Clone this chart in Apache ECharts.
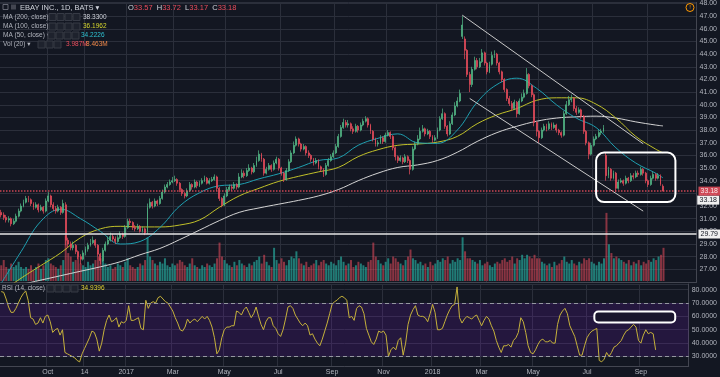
<!DOCTYPE html>
<html><head><meta charset="utf-8">
<script src="https://cdn.jsdelivr.net/npm/echarts@6/dist/echarts.min.js"></script>
<style>html,body{margin:0;padding:0;background:#131722;}#c{width:720px;height:377px;}</style>
</head><body><div id="c"></div>
<script>
// ---------- calendar ----------
const startDate = '2016-08-08';
const holidays = ['2016-09-05','2016-11-24','2016-12-26','2017-01-02','2017-01-16','2017-02-20','2017-04-14','2017-05-29','2017-07-04','2017-09-04','2017-11-23','2017-12-25','2018-01-01','2018-01-15','2018-02-19','2018-03-30','2018-05-28','2018-07-04','2018-09-03','2018-11-22','2018-12-25'];
const daysPerBar = 2;
const emptyBars = 13;

// ---------- price (one candle = 2 trading days) ----------
const openP = [
31.5,31.3,31.1,30.9,31.0,30.6,30.8,31.2,31.6,32.0,
32.3,32.6,32.5,32.2,31.9,32.1,31.7,31.9,31.6,32.4,
32.8,32.1,31.8,31.6,31.9,31.5,32.1,29.3,29.0,28.7,
28.9,28.4,28.0,27.8,28.3,28.6,28.9,29.1,29.3,28.9,
28.2,27.7,28.5,29.0,29.3,29.6,29.4,29.2,29.5,29.8,
29.6,30.3,30.8,30.7,30.3,30.2,30.4,30.0,30.2,30.0,
31.9,32.3,32.0,32.4,32.2,32.6,33.1,33.5,33.7,33.9,
34.0,34.1,33.8,33.3,33.0,32.8,33.2,33.7,33.5,33.9,
33.6,33.8,34.0,34.2,33.8,34.0,34.1,34.3,33.4,32.6,
32.1,32.8,33.3,33.5,33.4,33.7,33.5,34.3,34.6,34.4,
34.8,35.0,34.7,35.2,35.6,36.1,35.7,34.6,34.9,35.2,
34.9,35.4,35.7,35.0,34.6,34.1,34.8,35.5,36.2,36.8,
37.3,36.9,36.5,36.7,36.2,36.0,35.7,35.4,35.6,35.1,
34.9,34.5,35.2,35.6,35.9,36.2,36.7,37.5,38.2,38.6,
38.4,38.5,38.1,37.9,38.3,38.0,38.4,38.7,38.9,38.4,
37.9,37.3,36.9,37.0,37.4,37.1,37.6,37.8,37.5,36.6,
35.9,35.6,35.8,35.5,35.9,35.6,34.9,36.5,36.9,37.3,
37.9,38.1,37.7,37.9,37.5,37.2,37.4,38.0,38.9,39.3,
38.3,37.7,38.5,39.2,39.9,40.3,45.4,45.2,44.3,42.4,
41.6,42.8,43.5,43.0,43.4,44.1,43.3,42.6,43.2,43.9,
44.0,43.3,42.6,42.0,41.2,40.5,40.1,39.7,40.2,39.3,
40.3,40.6,40.9,42.4,41.5,40.8,38.6,37.9,37.4,38.0,
38.3,38.1,38.5,38.2,38.4,38.0,37.8,37.6,39.3,40.0,
40.4,40.5,39.7,39.4,39.6,39.1,37.9,37.0,36.1,36.8,
37.3,37.5,37.8,37.9,36.0,34.4,34.9,34.2,34.6,33.4,
33.9,34.0,33.8,34.2,34.0,34.4,34.3,34.6,34.5,34.9,
34.6,34.0,33.7,34.2,34.5,34.2,34.4,33.57];
const highP = [
31.7,31.5,31.3,31.2,31.1,31.0,31.4,31.8,32.2,32.5,
32.8,32.8,32.6,32.3,32.3,32.2,32.1,32.0,32.6,33.1,
32.9,32.3,32.0,32.1,32.0,32.5,32.3,29.5,29.2,29.2,
29.0,28.5,28.2,28.5,28.8,29.1,29.4,29.6,29.4,29.0,
28.3,28.7,29.2,29.6,29.9,29.8,29.6,29.7,30.0,29.9,
30.5,31.0,31.0,30.8,30.5,30.6,30.5,30.4,30.3,32.2,
32.6,32.4,32.6,32.5,32.8,33.3,33.7,33.9,34.1,34.3,
34.4,34.2,33.9,33.4,33.1,33.4,33.9,33.8,34.1,34.0,
34.0,34.2,34.4,34.3,34.2,34.3,34.5,34.4,33.5,32.7,
33.0,33.5,33.7,33.7,33.9,33.8,34.6,34.9,34.8,35.0,
35.3,35.1,35.4,35.9,36.4,36.2,35.8,35.1,35.4,35.3,
35.6,35.9,35.8,35.1,34.7,35.0,35.7,36.4,37.1,37.5,
37.4,37.0,36.9,36.8,36.4,36.1,35.8,35.8,35.7,35.2,
35.0,35.4,35.8,36.1,36.4,36.9,37.7,38.4,38.9,38.8,
38.8,38.6,38.3,38.5,38.4,38.6,38.9,39.1,39.0,38.5,
38.0,37.4,37.2,37.6,37.5,37.8,38.0,37.9,37.6,36.7,
36.0,36.0,35.9,36.1,36.0,35.7,36.7,37.1,37.6,38.2,
38.4,38.2,38.1,38.0,37.6,37.6,38.2,39.1,39.7,39.4,
38.4,38.7,39.4,40.2,40.6,41.2,47.0,45.4,44.4,42.6,
43.0,43.8,43.7,43.7,44.4,44.2,43.4,43.4,44.2,44.3,
44.1,43.4,42.7,42.1,41.3,40.7,40.3,40.4,40.3,40.5,
40.9,41.2,42.9,42.5,41.6,40.9,38.7,38.0,38.2,38.5,
38.5,38.7,38.6,38.6,38.5,38.1,37.9,39.5,40.3,40.7,
40.8,40.6,39.9,39.8,39.7,39.2,38.0,37.1,37.0,37.5,
37.7,38.0,38.1,38.4,36.2,35.1,35.0,34.8,34.7,34.1,
34.2,34.1,34.4,34.3,34.6,34.6,34.8,34.8,35.1,35.0,
34.7,34.1,34.4,34.7,34.6,34.6,34.5,33.72];
const lowP = [
31.1,30.9,30.7,30.7,30.4,30.5,30.7,31.1,31.5,31.9,
32.2,32.3,32.0,31.7,31.8,31.5,31.6,31.4,31.5,32.3,
31.9,31.6,31.4,31.5,31.3,31.4,28.9,28.7,28.5,28.5,
28.2,27.8,27.4,27.7,28.1,28.4,28.8,29.0,28.7,28.0,
27.4,27.6,28.4,28.9,29.2,29.2,29.0,29.1,29.4,29.4,
29.5,30.2,30.5,30.1,30.0,30.1,29.9,29.9,29.7,29.8,
31.8,31.8,31.9,32.0,32.1,32.5,33.0,33.4,33.6,33.8,
33.9,33.6,33.1,32.8,32.6,32.7,33.1,33.3,33.4,33.4,
33.5,33.7,33.9,33.7,33.7,33.9,34.0,33.2,32.4,31.9,
32.0,32.7,33.2,33.2,33.3,33.3,33.4,34.2,34.2,34.3,
34.7,34.5,34.6,35.1,35.5,35.5,34.4,34.5,34.8,34.7,
34.8,35.3,34.8,34.4,33.9,34.0,34.7,35.4,36.1,36.7,
36.7,36.3,36.4,36.0,35.8,35.5,35.2,35.3,34.9,34.7,
34.3,34.4,35.1,35.5,35.8,36.1,36.6,37.4,38.1,38.2,
38.2,37.9,37.7,37.8,37.8,37.9,38.3,38.6,38.2,37.7,
37.1,36.7,36.7,36.9,36.9,37.0,37.5,37.3,36.4,35.6,
35.4,35.5,35.3,35.4,35.4,34.5,34.8,36.4,36.8,37.2,
37.8,37.5,37.6,37.3,37.0,37.1,37.3,37.9,38.8,38.1,
37.5,37.6,38.4,39.1,39.8,40.2,45.2,43.6,42.2,41.0,
41.4,42.7,42.8,42.9,43.3,43.1,42.4,42.5,43.1,43.7,
43.1,42.4,41.8,41.0,40.3,39.9,39.5,39.6,39.0,39.2,
40.2,40.5,40.8,41.3,40.6,38.3,37.5,37.0,37.3,37.9,
37.9,38.0,38.0,38.1,37.8,37.6,37.4,37.5,39.2,39.9,
40.2,39.5,39.2,39.3,38.9,37.7,36.8,35.7,36.0,36.7,
37.2,37.4,37.6,37.8,34.0,34.2,34.0,34.1,33.1,33.3,
33.8,33.6,33.7,33.8,33.9,34.1,34.2,34.3,34.4,34.4,
33.8,33.5,33.6,34.1,34.0,34.1,33.6,33.17];
const closeP = [
31.3,31.1,30.9,31.0,30.6,30.8,31.2,31.6,32.0,32.3,
32.6,32.5,32.2,31.9,32.1,31.7,31.9,31.6,32.4,32.8,
32.1,31.8,31.6,31.9,31.5,32.2,29.3,29.0,28.7,28.9,
28.4,28.0,27.8,28.3,28.6,28.9,29.1,29.3,28.9,28.2,
27.7,28.5,29.0,29.3,29.6,29.4,29.2,29.5,29.8,29.6,
30.3,30.8,30.7,30.3,30.2,30.4,30.0,30.2,29.9,31.9,
32.3,32.0,32.4,32.2,32.6,33.1,33.5,33.7,33.9,34.0,
34.1,33.8,33.3,33.0,32.8,33.2,33.7,33.5,33.9,33.6,
33.8,34.0,34.2,33.8,34.0,34.1,34.3,33.4,32.6,32.1,
32.8,33.3,33.5,33.4,33.7,33.5,34.3,34.6,34.4,34.8,
35.0,34.7,35.2,35.6,36.1,35.7,34.6,34.9,35.2,34.9,
35.4,35.7,35.0,34.6,34.1,34.8,35.5,36.2,36.8,37.3,
36.9,36.5,36.7,36.2,36.0,35.7,35.4,35.6,35.1,34.9,
34.5,35.2,35.6,35.9,36.2,36.7,37.5,38.2,38.6,38.4,
38.5,38.1,37.9,38.3,38.0,38.4,38.7,38.9,38.4,37.9,
37.3,36.9,37.0,37.4,37.1,37.6,37.8,37.5,36.6,35.9,
35.6,35.8,35.5,35.9,35.6,34.9,36.5,36.9,37.3,37.9,
38.1,37.7,37.9,37.5,37.2,37.4,38.0,38.9,39.3,38.3,
37.7,38.5,39.2,39.9,40.3,40.9,46.3,44.3,42.4,41.6,
42.8,43.5,43.0,43.4,44.1,43.3,42.6,43.2,43.9,44.0,
43.3,42.6,42.0,41.2,40.5,40.1,39.7,40.2,39.3,40.3,
40.6,40.9,42.4,41.5,40.8,38.6,37.9,37.4,38.0,38.3,
38.1,38.5,38.2,38.4,38.0,37.8,37.6,39.3,40.0,40.4,
40.5,39.7,39.4,39.6,39.1,37.9,37.0,36.1,36.8,37.3,
37.5,37.8,37.9,38.2,34.4,34.9,34.2,34.6,33.4,33.9,
34.0,33.8,34.2,34.0,34.4,34.3,34.6,34.5,34.9,34.6,
34.0,33.7,34.2,34.5,34.2,34.4,33.7,33.18];
// volume, millions
const volumeM = [
9,12,8,7,10,8,9,11,8,7, 8,7,9,6,8,10,7,9,12,13, 10,9,8,7,9,12,26,16,14,11,
12,14,10,9,8,11,9,10,12,14, 13,12,10,8,9,7,8,10,9,8, 11,13,9,8,7,8,10,9,12,25,
14,12,10,9,11,10,13,9,8,10, 9,10,12,11,9,8,10,13,9,8, 7,9,8,10,9,8,10,13,22,14,
12,10,9,8,11,9,12,10,9,8, 10,9,11,12,14,10,15,11,9,8, 19,12,10,13,11,9,12,14,13,17,
13,10,9,11,8,9,10,12,9,11, 12,10,9,11,10,9,12,14,11,9, 10,12,8,9,11,10,9,8,11,12,
22,14,12,10,9,11,13,10,14,13, 11,10,9,12,14,18,13,12,10,11, 9,10,8,11,9,10,12,11,13,12,
14,10,12,11,13,12,25,17,13,13, 12,11,10,12,9,10,11,9,8,10, 11,10,12,13,11,12,14,10,13,12,
15,13,15,14,13,15,13,13,11,10, 9,10,8,11,9,10,12,14,11,10, 12,10,9,11,10,13,12,13,11,10,
9,11,10,13,39,21,16,13,14,13, 12,11,10,12,9,11,10,12,9,11, 10,12,11,13,12,14,15,19];
// RSI(14)
const rsi = [
78.5,78,73,67,63,63,66,70,74,77, 79,72,59,58,54,55,59,55,60,61, 56,48,50,51,46,50,33,32,31,30,
29,27,26,32,36,40,44,49,48,43, 34,40,50,57,61,56,57,59,52,56, 55,57,68,57,57,58,59,51,50,72,
66,70,71,70,74,75,73,71,70,67, 64,59,55,50,49,52,58,55,57,58, 56,58,60,58,60,57,52,44,32,35,
44,50,52,52,53,53,64,63,61,65, 67,63,59,62,67,60,54,50,56,59, 59,53,51,47,45,50,58,67,68,66,
61,58,55,53,55,53,46,47,43,40, 38,43,49,55,62,69,71,72,74,75, 74,72,59,60,57,66,68,67,62,51,
46,41,39,43,49,48,49,46,30,35, 37,35,42,44,31,40,54,61,65,68, 61,60,60,59,56,62,69,63,50,50,
51,56,61,65,68,69,82,59,55,58, 60,59,58,60,61,57,53,57,60,58, 53,49,42,37,33,38,38,39,37,42,
44,48,59,56,48,38,33,32,35,39, 42,43,41,41,42,40,40,54,61,64, 66,62,53,49,45,38,31,31,38,44,
47,49,50,51,27,26,28,33,30,33, 37,38,40,42,46,49,50,52,54,52, 42,40,46,50,47,48,47,34.94];
// moving averages: [candle index, value]
const ma200 = [[0,25.5],[8,25.8],[16,26.15],[24,26.5],[32,26.85],[40,27.2],[48,27.6],[56,28.15],[64,28.65],[72,29.35],[80,30.1],[88,30.85],[96,31.5],[104,31.85],[112,32.15],[120,32.45],[128,32.8],[136,33.3],[144,34.0],[152,34.6],[160,35.05],[168,35.25],[176,35.6],[184,36.25],[192,37.1],[200,37.8],[208,38.3],[216,38.7],[224,38.95],[232,39.05],[240,39.1],[248,38.95],[256,38.65],[264,38.4],[267,38.33]];
const ma100 = [[0,25.2],[8,26.3],[16,27.3],[24,28.3],[32,29.5],[40,30.2],[48,30.4],[56,30.35],[64,30.35],[72,30.5],[80,30.9],[88,31.9],[96,32.8],[104,33.4],[112,33.95],[120,34.35],[128,34.7],[136,35.05],[144,35.9],[152,36.45],[160,36.8],[168,36.9],[176,37.05],[184,37.5],[192,38.5],[200,39.2],[208,39.7],[216,40.35],[224,40.55],[232,40.55],[240,40.05],[248,38.95],[256,37.5],[264,36.5],[267,36.2]];
const ma50 = [[0,25.9],[8,28.4],[16,30.8],[24,31.75],[32,31.0],[40,30.0],[48,29.0],[56,29.2],[64,30.3],[72,32.0],[80,33.05],[88,33.6],[96,33.7],[104,34.15],[112,34.55],[120,35.05],[128,35.6],[136,35.8],[144,36.8],[152,37.35],[160,37.7],[168,37.0],[176,36.95],[184,38.0],[192,40.2],[200,41.6],[208,42.1],[216,41.3],[224,40.0],[232,38.95],[240,38.2],[248,36.6],[256,35.4],[264,34.6],[267,34.22]];

// axis ticks
const tickDates = ['2016-10-03','2016-11-14','2017-01-03','2017-03-01','2017-05-01','2017-07-03','2017-09-01','2017-11-01','2018-01-02','2018-03-01','2018-05-01','2018-07-02','2018-09-04'];
const tickTexts = ['Oct','14','2017','Mar','May','Jul','Sep','Nov','2018','Mar','May','Jul','Sep'];

// drawings (data space: candle index, price)
const lastPrice = 33.18;
const supportLevel = 29.79;
const trendLines = [[186, 47.08, 259, 36.92], [189, 40.5, 259, 31.6]];
const priceBox = [240, 36.22, 272, 32.31];
const rsiBox = [242, 63.7, 275, 55.4];
const rsiBands = [70, 30];

// legend values
const ohlcLast = {O: '33.57', H: '33.72', L: '33.17', C: '33.18'};
const legendMA200 = '38.3300', legendMA100 = '36.1962', legendMA50 = '34.2226';
const legendVol = '3.987M', legendVolMA = '8.463M', legendRSI = '34.9396';

// ---------- build ----------
function tradingDays(start, n) {
  const out = []; const d = new Date(start + 'T00:00:00Z');
  while (out.length < n) {
    const dow = d.getUTCDay(); const s = d.toISOString().slice(0, 10);
    if (dow !== 0 && dow !== 6 && holidays.indexOf(s) < 0) out.push(s);
    d.setUTCDate(d.getUTCDate() + 1);
  }
  return out;
}
const nBars = closeP.length + emptyBars;
const days = tradingDays(startDate, nBars * daysPerBar);
const categories = [];
for (let i = 0; i < nBars; i++) categories.push(days[i * daysPerBar]);
const labelMap = {};
tickDates.forEach((t, k) => { const di = days.indexOf(t); if (di >= 0) labelMap[Math.floor(di / daysPerBar)] = tickTexts[k]; });
const isTick = (idx) => labelMap.hasOwnProperty(idx);

const UP = '#53b987', DOWN = '#eb4d5c';
const GRID = '#2b2f3b';
const TXT = '#b2b5be';
const FONT = 'Liberation Sans, DejaVu Sans, sans-serif';

const candleData = closeP.map((c, i) => [openP[i], c, lowP[i], highP[i]]);
const volData = volumeM.map((v, i) => ({value: v, itemStyle: {color: closeP[i] >= openP[i] ? 'rgba(38,166,154,0.7)' : 'rgba(235,77,92,0.55)'}}));

function boxRender(fill, r) {
  return function (params, api) {
    const a = api.coord([api.value(0), api.value(1)]);
    const b = api.coord([api.value(2), api.value(3)]);
    return {type: 'rect', shape: {x: a[0], y: a[1], width: b[0] - a[0], height: b[1] - a[1], r: r},
      style: {fill: fill, stroke: '#ffffff', lineWidth: 2}};
  };
}

const graphic = [];
function txt(x, y, text, fill, size, extra) {
  graphic.push(Object.assign({type: 'text', x: x, y: y, silent: true, z: 100,
    style: Object.assign({text: text, fill: fill, fontSize: size || 6.5, fontFamily: FONT, verticalAlign: 'middle'}, extra || {})}));
}
function icons(x, y, n) {
  for (let k = 0; k < n; k++) graphic.push({type: 'rect', z: 100, silent: true, shape: {x: x + k * 8, y: y - 3.5, width: 7, height: 7},
    style: {fill: '#1e222d', stroke: '#363a45', lineWidth: 1}});
}
graphic.push({type: 'rect', z: 100, shape: {x: 3, y: 4.5, width: 5, height: 5}, style: {fill: 'none', stroke: '#787b86', lineWidth: 0.8}});
graphic.push({type: 'rect', z: 100, shape: {x: 11, y: 4.5, width: 5, height: 5}, style: {fill: '#434651'}});
txt(20, 7.5, 'EBAY INC., 1D, BATS \u25BE', '#d1d4dc', 7.5);
txt(128, 7.5, '{l|O}{v|' + ohlcLast.O + '}  {l|H}{v|' + ohlcLast.H + '}  {l|L}{v|' + ohlcLast.L + '}  {l|C}{v|' + ohlcLast.C + '}', '#d1d4dc', 7.5,
  {rich: {l: {fill: '#d1d4dc', fontSize: 7.5, fontFamily: FONT}, v: {fill: DOWN, fontSize: 7.5, fontFamily: FONT}}});
txt(3, 17, 'MA (200, close) \u25BE', TXT); icons(49, 17, 4); txt(83, 17, legendMA200, '#d1d4dc');
txt(3, 26.5, 'MA (100, close) \u25BE', TXT); icons(49, 26.5, 4); txt(83, 26.5, legendMA100, '#d6d62e');
txt(3, 35.5, 'MA (50, close) \u25BE', TXT); icons(48, 35.5, 4); txt(81, 35.5, legendMA50, '#2ec0d0');
txt(3, 44.5, 'Vol (20) \u25BE', TXT); icons(38, 44.5, 3); txt(66, 44.5, legendVol, DOWN); txt(86, 44.5, legendVolMA, '#f0894a');
txt(2, 288.5, 'RSI (14, close) \u25BE', TXT); icons(47, 288.5, 4); txt(81, 288.5, legendRSI, '#e0d030');
graphic.push({type: 'circle', z: 100, shape: {cx: 690, cy: 7.5, r: 4}, style: {fill: 'none', stroke: '#ff9800', lineWidth: 1}});
txt(690, 7.5, '!', '#ff9800', 6, {align: 'center'});

const splitV = {show: true, interval: (i) => isTick(i), lineStyle: {color: GRID, width: 1}};
const axisLabelBox = {fontSize: 7, fontFamily: FONT, padding: [1, 2]};

const option = {
  backgroundColor: '#131722',
  animation: false,
  textStyle: {fontFamily: FONT},
  graphic: graphic,
  grid: [
    {left: 0, right: 23, top: 0, height: 282},
    {left: 0, right: 23, top: 150, height: 131},
    {left: 0, right: 23, top: 284, height: 82}
  ],
  xAxis: [
    {type: 'category', gridIndex: 0, data: categories, boundaryGap: true, axisLabel: {show: false}, axisTick: {show: false},
      axisLine: {show: true, lineStyle: {color: '#434651'}}, splitLine: splitV},
    {type: 'category', gridIndex: 1, data: categories, boundaryGap: true, show: false},
    {type: 'category', gridIndex: 2, data: categories, boundaryGap: true, axisTick: {show: false},
      axisLine: {show: true, lineStyle: {color: '#434651'}}, splitLine: splitV,
      axisLabel: {interval: (i) => isTick(i), formatter: (v, i) => labelMap[i] || '', color: TXT, fontSize: 7, margin: 3, fontFamily: FONT}}
  ],
  yAxis: [
    {type: 'value', gridIndex: 0, position: 'right', min: 26, max: 48.09, interval: 1, scale: true,
      axisLine: {show: true, lineStyle: {color: '#434651'}}, axisTick: {show: false},
      axisLabel: {color: TXT, fontSize: 7, margin: 3, fontFamily: FONT, formatter: (v) => v.toFixed(2), showMinLabel: false, showMaxLabel: false},
      splitLine: {show: true, lineStyle: {color: GRID}}},
    {type: 'value', gridIndex: 1, min: 0, max: 75, show: false},
    {type: 'value', gridIndex: 2, position: 'right', min: 22.9, max: 84.2, splitNumber: 6,
      axisLine: {show: true, lineStyle: {color: '#434651'}}, axisTick: {show: false},
      axisLabel: {color: TXT, fontSize: 7, margin: 3, fontFamily: FONT, formatter: (v) => v.toFixed(4), showMinLabel: false, showMaxLabel: false},
      splitLine: {show: true, lineStyle: {color: GRID}}}
  ],
  series: [
    {name: 'Vol', type: 'bar', xAxisIndex: 1, yAxisIndex: 1, data: volData, barCategoryGap: '20%', z: 1},
    {name: 'MA200', type: 'line', xAxisIndex: 0, yAxisIndex: 0, data: ma200, smooth: 0.4, symbol: 'none', clip: true,
      lineStyle: {color: '#d4d4d4', width: 1}, z: 3},
    {name: 'MA100', type: 'line', xAxisIndex: 0, yAxisIndex: 0, data: ma100, smooth: 0.4, symbol: 'none', clip: true,
      lineStyle: {color: '#c0c02a', width: 1}, z: 3},
    {name: 'MA50', type: 'line', xAxisIndex: 0, yAxisIndex: 0, data: ma50, smooth: 0.4, symbol: 'none', clip: true,
      lineStyle: {color: '#1f9fb0', width: 1}, z: 3},
    {name: 'EBAY', type: 'candlestick', xAxisIndex: 0, yAxisIndex: 0, data: candleData, barWidth: 1.4, z: 4,
      itemStyle: {color: UP, color0: DOWN, borderColor: UP, borderColor0: DOWN, borderWidth: 0.7},
      markLine: {silent: true, symbol: ['none', 'none'], animation: false,
        data: [
          [{coord: [trendLines[0][0], trendLines[0][1]]}, {coord: [trendLines[0][2], trendLines[0][3]]}],
          [{coord: [trendLines[1][0], trendLines[1][1]]}, {coord: [trendLines[1][2], trendLines[1][3]]}],
          {yAxis: supportLevel, lineStyle: {color: '#e6e6e6', width: 1.5, type: 'solid'},
            label: Object.assign({show: true, position: 'end', distance: 2, formatter: supportLevel.toFixed(2), color: '#131722', backgroundColor: '#f0f0f0'}, axisLabelBox)},
          {yAxis: lastPrice, lineStyle: {color: DOWN, width: 1.5, type: 'dotted', opacity: 0.85},
            label: Object.assign({show: true, position: 'end', distance: 2, formatter: lastPrice.toFixed(2), color: '#ffffff', backgroundColor: DOWN}, axisLabelBox)}
        ],
        lineStyle: {color: '#c8c8c8', width: 1, type: 'solid'},
        label: {show: false}},
      markPoint: {silent: true, animation: false,
        data: [{coord: [nBars - 1, lastPrice], symbol: 'rect', symbolSize: [22, 9], symbolOffset: [13, 9],
          itemStyle: {color: '#f0f0f0'},
          label: {show: true, position: 'inside', formatter: lastPrice.toFixed(2), color: '#131722', fontSize: 7, fontFamily: FONT}}]}},
    {name: 'box', type: 'custom', xAxisIndex: 0, yAxisIndex: 0, data: [priceBox], renderItem: boxRender('none', 8), clip: false, z: 6, silent: true},
    {name: 'RSI', type: 'line', xAxisIndex: 2, yAxisIndex: 2, data: rsi, symbol: 'none', lineStyle: {color: '#c5b13b', width: 1}, z: 4,
      markArea: {silent: true, itemStyle: {color: 'rgba(153,21,255,0.13)'}, data: [[{yAxis: rsiBands[0]}, {yAxis: rsiBands[1]}]]},
      markLine: {silent: true, symbol: ['none', 'none'], label: {show: false}, lineStyle: {color: '#9598a1', type: [4, 3], width: 1},
        data: rsiBands.map((v) => ({yAxis: v}))}},
    {name: 'rsibox', type: 'custom', xAxisIndex: 2, yAxisIndex: 2, data: [rsiBox], renderItem: boxRender('#19152c', 4), clip: false, z: 6, silent: true}
  ]
};
const chart = echarts.init(document.getElementById('c'), null, {renderer: 'canvas'});
chart.setOption(option);
</script></body></html>
